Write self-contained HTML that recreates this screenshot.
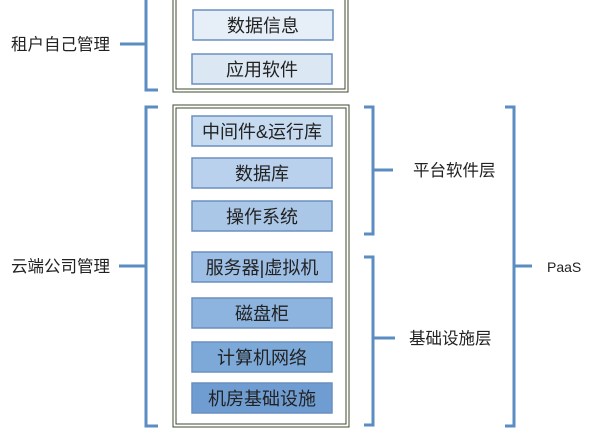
<!DOCTYPE html>
<html><head><meta charset="utf-8"><style>
html,body{margin:0;padding:0;background:#fff;}
svg{display:block;}
text{font-family:"Liberation Sans","Noto Sans CJK SC",sans-serif;}
</style></head><body>
<svg width="600" height="435" viewBox="0 0 600 435" xmlns="http://www.w3.org/2000/svg">
<rect x="173" y="-5" width="175" height="97" fill="#fff" stroke="#3c4a2c" stroke-width="1"/>
<rect x="176" y="-2" width="169" height="91" fill="none" stroke="#3c4a2c" stroke-width="1"/>
<rect x="173" y="105" width="176" height="322" fill="#fff" stroke="#3c4a2c" stroke-width="1"/>
<rect x="176" y="108" width="170" height="316" fill="none" stroke="#3c4a2c" stroke-width="1"/>
<g stroke="#6a8fbf" stroke-width="1.5">
<rect x="193" y="10" width="140" height="30" fill="#e6eef8"/>
<rect x="192" y="54" width="140" height="30" fill="#dce7f4"/>
<rect x="192" y="116" width="140" height="30" fill="#c6daf0"/>
<rect x="192" y="158" width="140" height="30" fill="#b9d1ed"/>
<rect x="192" y="201" width="140" height="30" fill="#aac7e8"/>
<rect x="192" y="252" width="140" height="30" fill="#9dbfe5"/>
<rect x="192" y="298" width="140" height="30" fill="#8db4df"/>
<rect x="192" y="342" width="140" height="30" fill="#7da9d9"/>
<rect x="192" y="383" width="140" height="30" fill="#6f9dd2"/>
</g>
<g font-size="18" fill="#222" text-anchor="middle">
<text x="263" y="32">数据信息</text>
<text x="262" y="76">应用软件</text>
<text x="262" y="138">中间件&amp;运行库</text>
<text x="262" y="180">数据库</text>
<text x="262" y="223">操作系统</text>
<text x="262" y="274">服务器|虚拟机</text>
<text x="262" y="320">磁盘柜</text>
<text x="262" y="364">计算机网络</text>
<text x="262" y="405">机房基础设施</text>
</g>
<g stroke="#5b8cc2" stroke-width="3" fill="none">
<path d="M158,-2 L146,-2 L146,90 L158,90 M120,44 L146,44"/>
<path d="M158,107 L146,107 L146,426 L158,426 M119,266 L146,266"/>
<path d="M364,107 L373,107 L373,234 L364,234 M373,170 L393,170"/>
<path d="M364,257 L373,257 L373,425 L364,425 M373,338 L395,338"/>
<path d="M505,107 L514,107 L514,426 L505,426 M514,266 L532,266"/>
</g>
<g font-size="16.5" fill="#222">
<text x="11" y="50">租户自己管理</text>
<text x="11" y="272">云端公司管理</text>
<text x="413" y="176">平台软件层</text>
<text x="409" y="344">基础设施层</text>
<text x="547" y="272" font-size="14">PaaS</text>
</g>
</svg>
</body></html>
